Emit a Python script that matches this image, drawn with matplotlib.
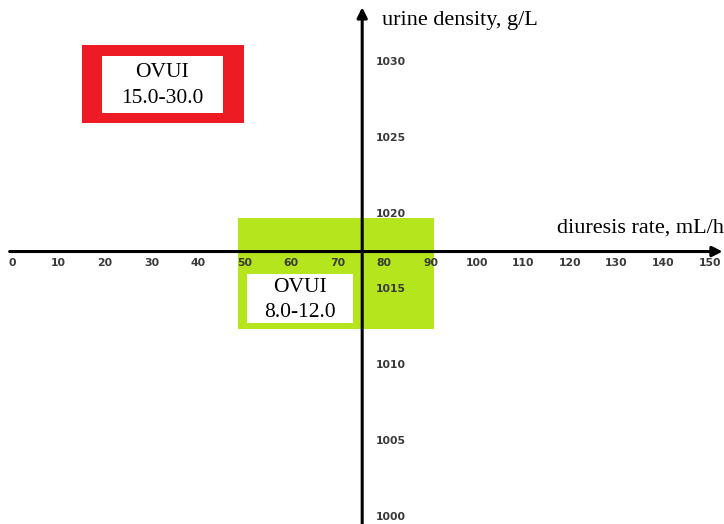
import matplotlib.pyplot as plt
from matplotlib.patches import Rectangle

# axis ticks
x_ticks = [0, 10, 20, 30, 40, 50, 60, 70, 80, 90, 100, 110, 120, 130, 140, 150]
y_ticks = [1000, 1005, 1010, 1015, 1020, 1025, 1030]

# where the two axes cross
x_cross = 75.3
y_cross = 1017.5

# normal zone (green) and its OVUI label
normal_x = [48.5, 90.8]
normal_y = [1012.4, 1019.7]
normal_label = "OVUI\n8.0-12.0"

# high OVUI box (red)
high_label = "OVUI\n15.0-30.0"

x_title = "diuresis rate, mL/h"
y_title = "urine density, g/L"

fig = plt.figure(figsize=(7.24, 5.24), dpi=100)
ax = fig.add_axes([0, 0, 1, 1])
ax.set_xlim(-2.58, 153.1)
ax.set_ylim(999.54, 1034.08)
ax.axis('off')

serif = 'Liberation Serif'

# green zone
ax.add_patch(Rectangle((normal_x[0], normal_y[0]), normal_x[1] - normal_x[0],
                       normal_y[1] - normal_y[0], facecolor='#b5e61d',
                       edgecolor='none', zorder=1))
ax.add_patch(Rectangle((50.5, 1012.8), 22.8, 3.2, facecolor='white',
                       edgecolor='none', zorder=2))
ax.text(61.9, 1014.3, normal_label, ha='center', va='center', fontsize=15.5,
        family=serif, linespacing=1.45, zorder=6)

# red box
ax.add_patch(Rectangle((15.05, 1026.0), 34.85, 5.1, facecolor='#ed1c24',
                       edgecolor='none', zorder=1))
ax.add_patch(Rectangle((19.35, 1026.6), 26.05, 3.8, facecolor='white',
                       edgecolor='none', zorder=2))
ax.text(32.3, 1028.45, high_label, ha='center', va='center', fontsize=15.5,
        family=serif, linespacing=1.45, zorder=6)

# axes with arrows
ax.annotate('', xy=(152.8, y_cross), xytext=(-0.5, y_cross),
            arrowprops=dict(arrowstyle='-|>', lw=2.2, color='black',
                            mutation_scale=15, shrinkA=0, shrinkB=0), zorder=4)
ax.annotate('', xy=(x_cross, 1033.6), xytext=(x_cross, 999.0),
            arrowprops=dict(arrowstyle='-|>', lw=2.2, color='black',
                            mutation_scale=15, shrinkA=0, shrinkB=0), zorder=4)

# tick labels
for xv in x_ticks:
    ax.annotate(str(xv), xy=(xv, y_cross), xytext=(0, -8), textcoords='offset points',
                ha='center', va='center', fontsize=7.8, fontweight='bold',
                color='#3a3a3a', zorder=5)
for yv in y_ticks:
    ax.annotate(str(yv), xy=(x_cross, yv), xytext=(10, 0), textcoords='offset points',
                ha='left', va='center', fontsize=7.8, fontweight='bold',
                color='#3a3a3a', zorder=5)

# axis titles
ax.text(153.0, 1018.4, x_title, ha='right', va='bottom', fontsize=16, family=serif)
ax.annotate(y_title, xy=(x_cross, 1032.7), xytext=(14, 0), textcoords='offset points',
            ha='left', va='center', fontsize=16, family=serif)

fig.savefig('out.png', dpi=100)
